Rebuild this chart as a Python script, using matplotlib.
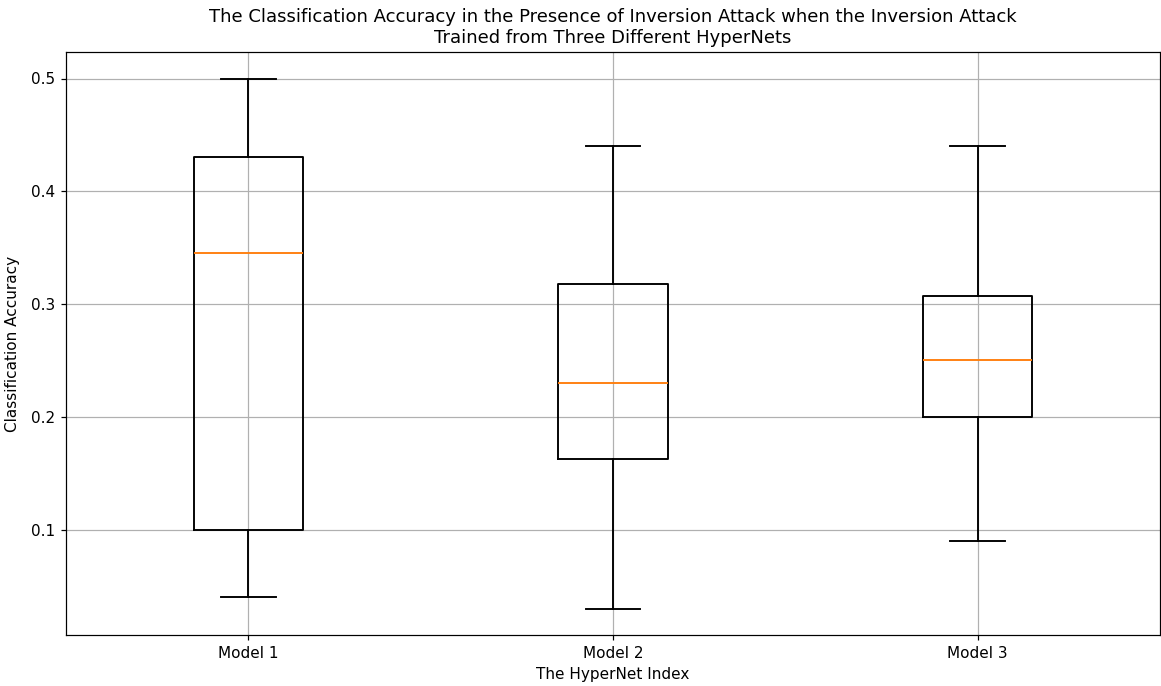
import matplotlib
matplotlib.use("Agg")
import matplotlib.pyplot as plt

# Box statistics for the inversion attack accuracy per HyperNet
models = ["Model 1", "Model 2", "Model 3"]
whisker_low = [0.04, 0.03, 0.09]
q1 = [0.10, 0.1625, 0.20]
median = [0.345, 0.23, 0.25]
q3 = [0.43, 0.3175, 0.3075]
whisker_high = [0.50, 0.44, 0.44]

stats = [
    {"label": m, "whislo": lo, "q1": a, "med": md, "q3": b, "whishi": hi, "fliers": []}
    for m, lo, a, md, b, hi in zip(models, whisker_low, q1, median, q3, whisker_high)
]

DPI = 110
fig = plt.figure(figsize=(1161 / DPI, 686 / DPI), dpi=DPI)
ax = fig.add_axes([66 / 1161, 51 / 686, (1160 - 66) / 1161, (635 - 52) / 686])

lw = 1.25
ax.bxp(stats, boxprops=dict(linewidth=lw), whiskerprops=dict(linewidth=lw),
       capprops=dict(linewidth=lw), medianprops=dict(linewidth=lw))
ax.grid(True)
ax.set_xlabel("The HyperNet Index")
ax.set_ylabel("Classification Accuracy", labelpad=7)
ax.set_title("The Classification Accuracy in the Presence of Inversion Attack when the Inversion Attack\n"
             "Trained from Three Different HyperNets", fontsize=11.8)

fig.savefig("out.png", dpi=DPI)
